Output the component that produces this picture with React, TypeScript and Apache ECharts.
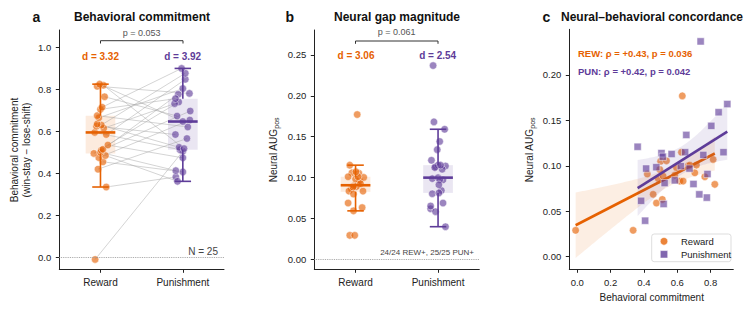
import React, { useEffect, useRef } from "react";
import * as echarts from "echarts";

// ---------------- DATA ----------------
const conditions = ["Reward", "Punishment"];

// per-subject behavioral commitment (win-stay − lose-shift)
const rewardCommitment = [-0.01, 0.335, 0.42, 0.455, 0.475, 0.485, 0.495, 0.5, 0.51, 0.515, 0.535, 0.585, 0.595, 0.615, 0.625, 0.63, 0.635, 0.665, 0.675, 0.705, 0.715, 0.765, 0.815, 0.82, 0.825];
const punishCommitment = [0.505, 0.383, 0.566, 0.407, 0.654, 0.362, 0.74, 0.413, 0.697, 0.777, 0.474, 0.848, 0.513, 0.732, 0.585, 0.877, 0.524, 0.804, 0.621, 0.756, 0.9, 0.673, 0.781, 0.518, 0.647];

// per-subject neural AUG_pos (one reward subject missing)
const rewardNeural: (number | null)[] = [0.029, 0.029, 0.091, 0.0686, 0.059, 0.086, 0.096, 0.105, 0.063, 0.0887, 0.1055, 0.0898, 0.098, 0.0832, 0.115, 0.177, 0.0832, 0.1, 0.1008, 0.0923, 0.1008, 0.088, 0.107, null, 0.0796];
const punishNeural = [0.114, 0.0615, 0.113, 0.0396, 0.134, 0.121, 0.237, 0.097, 0.08, 0.065, 0.0985, 0.159, 0.11, 0.0686, 0.084, 0.115, 0.081, 0.144, 0.0997, 0.112, 0.168, 0.097, 0.091, 0.058, 0.115];

// strip-plot jitter offsets (category units)
const jitterA_rew = [-0.065, 0.07, -0.03, 0.03, -0.02, 0.06, -0.08, 0, 0.01, 0.03, 0.09, 0.07, -0.07, 0.04, -0.05, 0.01, -0.04, -0.02, -0.04, 0, 0.02, 0.05, -0.04, 0.035, -0.01];
const jitterA_pun = [0, -0.085, 0.05, 0, 0.085, -0.065, -0.05, -0.085, 0.09, -0.055, 0, 0.03, -0.035, -0.1, -0.09, 0.03, -0.045, 0, 0.06, -0.09, -0.015, -0.07, 0.08, 0.015, 0];
const jitterB_rew = [-0.07, -0.01, 0.03, -0.09, -0.025, -0.05, 0.05, 0.04, 0.08, 0.01, -0.045, -0.02, 0, -0.08, -0.07, 0.02, 0.09, 0.1, -0.09, 0.06, 0.03, -0.03, 0.005, 0, -0.025];
const jitterB_pun = [0.09, -0.09, -0.03, 0.09, -0.01, -0.08, -0.06, 0.06, -0.07, -0.09, -0.07, 0.08, 0.05, 0.06, 0.04, 0, 0.01, 0.02, 0, -0.04, -0.05, 0.02, 0.01, -0.03, 0.03];

const effectA = ["d = 3.32", "d = 3.92"];
const effectB = ["d = 3.06", "d = 2.54"];
const pA = "p = 0.053";
const pB = "p = 0.061";
const corrTexts = ["REW: ρ = +0.43, p = 0.036", "PUN: ρ = +0.42, p = 0.042"];

const ticksA = [0, 0.2, 0.4, 0.6, 0.8, 1.0];
const ticksB = [0, 0.05, 0.1, 0.15, 0.2, 0.25];
const ticksCx = [0, 0.2, 0.4, 0.6, 0.8];
const ticksCy = [0, 0.05, 0.1, 0.15, 0.2];

// ---------------- STYLE ----------------
const W = 753, H = 314;
const FONT = "Liberation Sans";
const ORANGE = "#E66101";
const PURPLE = "#5E3C99";
const ORANGE_PT = "rgba(230,97,1,0.78)";
const PURPLE_PT = "rgba(94,60,153,0.78)";
const ORANGE_BOX = "rgba(230,97,1,0.13)";
const PURPLE_BOX = "rgba(94,60,153,0.13)";
const BOX_W = 0.36;
const CAP_W = 0.2;

// ---------------- STATS ----------------
function quantile(s: number[], q: number) {
  const pos = (s.length - 1) * q;
  const lo = Math.floor(pos), hi = Math.ceil(pos);
  return s[lo] + (s[hi] - s[lo]) * (pos - lo);
}
function boxStats(vals: (number | null)[]) {
  const s = (vals.filter((v) => v != null) as number[]).sort((a, b) => a - b);
  const q1 = quantile(s, 0.25), med = quantile(s, 0.5), q3 = quantile(s, 0.75);
  const iqr = q3 - q1;
  const lo = s.filter((v) => v >= q1 - 1.5 * iqr)[0];
  const hiArr = s.filter((v) => v <= q3 + 1.5 * iqr);
  const hi = hiArr[hiArr.length - 1];
  return [lo, q1, med, q3, hi];
}
function regression(xs: number[], ys: (number | null)[]) {
  const pts: [number, number][] = [];
  xs.forEach((x, i) => { if (ys[i] != null) pts.push([x, ys[i] as number]); });
  const n = pts.length;
  const mx = pts.reduce((a, p) => a + p[0], 0) / n;
  const my = pts.reduce((a, p) => a + p[1], 0) / n;
  let sxx = 0, sxy = 0;
  pts.forEach(([x, y]) => { sxx += (x - mx) ** 2; sxy += (x - mx) * (y - my); });
  const b = sxy / sxx, a = my - b * mx;
  let sse = 0;
  pts.forEach(([x, y]) => { sse += (y - a - b * x) ** 2; });
  const s = Math.sqrt(sse / (n - 2));
  const t = 2.07;
  const xmin = Math.min(...pts.map((p) => p[0])), xmax = Math.max(...pts.map((p) => p[0]));
  const upper: number[][] = [], lower: number[][] = [];
  const N = 60;
  for (let k = 0; k <= N; k++) {
    const x = xmin + ((xmax - xmin) * k) / N;
    const yhat = a + b * x;
    const se = s * Math.sqrt(1 / n + (x - mx) ** 2 / sxx);
    upper.push([x, yhat + t * se]);
    lower.push([x, yhat - t * se]);
  }
  return { pts, line: [[xmin, a + b * xmin], [xmax, a + b * xmax]], upper, lower };
}

// ---------------- RENDERERS ----------------
const boxFillRender = (fills: string[]) => (params: any, api: any) => {
  const x = api.value(0);
  const q1 = api.coord([x, api.value(2)]);
  const q3 = api.coord([x, api.value(4)]);
  const hw = api.size([BOX_W, 0])[0] / 2;
  return {
    type: "rect",
    shape: { x: q1[0] - hw, y: q3[1], width: hw * 2, height: q1[1] - q3[1] },
    style: { fill: fills[params.dataIndex] },
  };
};
const whiskerRender = (colors: string[]) => (params: any, api: any) => {
  const x = api.value(0);
  const [lo, q1, med, q3, hi] = [1, 2, 3, 4, 5].map((i) => api.coord([x, api.value(i)]));
  const hw = api.size([BOX_W, 0])[0] / 2;
  const cw = api.size([CAP_W, 0])[0] / 2;
  const c = colors[params.dataIndex];
  const st = { stroke: c, lineWidth: 1.6 };
  return {
    type: "group",
    children: [
      { type: "line", shape: { x1: lo[0], y1: lo[1], x2: lo[0], y2: q1[1] }, style: st },
      { type: "line", shape: { x1: hi[0], y1: hi[1], x2: hi[0], y2: q3[1] }, style: st },
      { type: "line", shape: { x1: lo[0] - cw, y1: lo[1], x2: lo[0] + cw, y2: lo[1] }, style: st },
      { type: "line", shape: { x1: hi[0] - cw, y1: hi[1], x2: hi[0] + cw, y2: hi[1] }, style: st },
      { type: "line", shape: { x1: med[0] - hw, y1: med[1], x2: med[0] + hw, y2: med[1] }, style: { stroke: c, lineWidth: 2.6 } },
    ],
  };
};
const pairRender = (params: any, api: any) => {
  const a = api.coord([api.value(0), api.value(1)]);
  const b = api.coord([api.value(2), api.value(3)]);
  return { type: "line", shape: { x1: a[0], y1: a[1], x2: b[0], y2: b[1] }, style: { stroke: "rgba(165,165,165,0.6)", lineWidth: 0.8 } };
};
const bandRender = (upper: number[][], lower: number[][], fill: string) => (params: any, api: any) => {
  const pts = upper.map((p) => api.coord(p)).concat(lower.slice().reverse().map((p) => api.coord(p)));
  return { type: "polygon", shape: { points: pts }, style: { fill } };
};

function buildOption() {
  const statsAR = boxStats(rewardCommitment);
  const statsAP = boxStats(punishCommitment);
  const statsBR = boxStats(rewardNeural);
  const statsBP = boxStats(punishNeural);
  const regR = regression(rewardCommitment, rewardNeural);
  const regP = regression(punishCommitment, punishNeural);

  const axisLine = { show: true, onZero: false, lineStyle: { color: "#222", width: 1 } };
  const tick = (vals: number[]) => ({ show: true, length: 3.5, customValues: vals, lineStyle: { color: "#222", width: 1 } });
  const label = (vals: number[], fmt: (v: number) => string, size = 9.5) => ({
    show: true, customValues: vals, formatter: fmt, color: "#222", fontSize: size, margin: 8, fontFamily: FONT,
  });
  const catFmt = (v: number) => conditions[Math.round(v)] ?? "";

  const zeroLine = {
    silent: true, symbol: ["none", "none"], label: { show: false },
    lineStyle: { type: "dotted", color: "#9a9a9a", width: 0.9 },
    data: [{ yAxis: 0 }],
  };

  const txt = (x: number, y: number, text: string, o: any = {}) => ({
    type: "text", x, y, z: 100, silent: true,
    style: {
      text, fontFamily: FONT, fontSize: o.size ?? 10, fontWeight: o.bold ? "bold" : "normal",
      fill: o.color ?? "#222", align: o.align ?? "center", verticalAlign: "middle", lineHeight: o.lh,
      rich: o.rich,
    },
    rotation: o.rot ?? 0,
  });
  const bracket = (x1: number, x2: number, y: number) => ({
    type: "polyline", z: 100, silent: true,
    shape: { points: [[x1, y + 2.8], [x1, y], [x2, y], [x2, y + 2.8]] },
    style: { stroke: "#333", lineWidth: 1, fill: "none" },
  });
  const augRich = {
    n: { fontSize: 10, fontFamily: FONT, fill: "#222", lineHeight: 13 },
    s: { fontSize: 7, fontFamily: FONT, fill: "#222", verticalAlign: "bottom", lineHeight: 13 },
  };

  const graphic = [
    txt(32.5, 17, "a", { size: 14, bold: true, align: "left", color: "#111" }),
    txt(142, 16.5, "Behavioral commitment", { size: 12, bold: true, color: "#111" }),
    txt(285.5, 17, "b", { size: 14, bold: true, align: "left", color: "#111" }),
    txt(397, 16.5, "Neural gap magnitude", { size: 12, bold: true, color: "#111" }),
    txt(542.5, 17, "c", { size: 14, bold: true, align: "left", color: "#111" }),
    txt(652, 16.5, "Neural–behavioral concordance", { size: 12, bold: true, color: "#111" }),
    txt(100.5, 56, effectA[0], { bold: true, color: ORANGE }),
    txt(182.7, 56, effectA[1], { bold: true, color: PURPLE }),
    txt(356, 55.7, effectB[0], { bold: true, color: ORANGE }),
    txt(437.7, 55.7, effectB[1], { bold: true, color: PURPLE }),
    txt(141.7, 32.7, pA, { size: 9, color: "#555" }),
    txt(396.7, 32.3, pB, { size: 9, color: "#555" }),
    bracket(100.5, 183, 40.7),
    bracket(355.5, 438, 41),
    txt(218, 251.7, "N = 25", { size: 10, color: "#444", align: "right" }),
    txt(474, 252.7, "24/24 REW+, 25/25 PUN+", { size: 8, color: "#444", align: "right" }),
    txt(578, 53.3, corrTexts[0], { size: 9.5, bold: true, color: ORANGE, align: "left" }),
    txt(578, 71.7, corrTexts[1], { size: 9.5, bold: true, color: PURPLE, align: "left" }),
    txt(651.7, 297.3, "Behavioral commitment", { size: 10 }),
    txt(20.5, 150, "Behavioral commitment\n(win-stay − lose-shift)", { size: 10, rot: Math.PI / 2, lh: 12.7 }),
    txt(273, 150, "{n|Neural AUG}{s|pos}", { rot: Math.PI / 2, rich: augRich }),
    txt(529.3, 150, "{n|Neural AUG}{s|pos}", { rot: Math.PI / 2, rich: augRich }),
    // legend
    {
      type: "rect", z: 99, silent: true,
      shape: { x: 651.7, y: 234, width: 79.3, height: 27.7, r: 2.5 },
      style: { fill: "rgba(255,255,255,0.85)", stroke: "#d4d4d4", lineWidth: 0.8 },
    },
    { type: "circle", z: 100, silent: true, shape: { cx: 664, cy: 241.3, r: 3.8 }, style: { fill: ORANGE_PT, stroke: "#fff", lineWidth: 0.5 } },
    { type: "rect", z: 100, silent: true, shape: { x: 660.3, y: 250.6, width: 7.4, height: 7.4 }, style: { fill: PURPLE_PT, stroke: "#fff", lineWidth: 0.5 } },
    txt(681, 241.5, "Reward", { size: 9.5, align: "left" }),
    txt(681, 254.5, "Punishment", { size: 9.5, align: "left" }),
  ];

  const ptStyle = (c: string) => ({ color: c, borderColor: "#fff", borderWidth: 0.6 });

  const series: any[] = [
    // ---- panel a ----
    {
      type: "custom", name: "a-box", xAxisIndex: 0, yAxisIndex: 0, z: 1, silent: true,
      renderItem: boxFillRender([ORANGE_BOX, PURPLE_BOX]),
      encode: { x: 0, y: [1, 2, 3, 4, 5] },
      data: [[0, ...statsAR], [1, ...statsAP]],
    },
    {
      type: "custom", name: "a-pairs", xAxisIndex: 0, yAxisIndex: 0, z: 2, silent: true,
      renderItem: pairRender, encode: { x: [0, 2], y: [1, 3] },
      data: rewardCommitment.map((v, i) => [0 + jitterA_rew[i], v, 1 + jitterA_pun[i], punishCommitment[i]]),
    },
    {
      type: "scatter", name: "a-Reward", xAxisIndex: 0, yAxisIndex: 0, z: 3, symbolSize: 7.5,
      itemStyle: ptStyle(ORANGE_PT), markLine: zeroLine,
      data: rewardCommitment.map((v, i) => [0 + jitterA_rew[i], v]),
    },
    {
      type: "scatter", name: "a-Punishment", xAxisIndex: 0, yAxisIndex: 0, z: 3, symbolSize: 7.5,
      itemStyle: ptStyle(PURPLE_PT),
      data: punishCommitment.map((v, i) => [1 + jitterA_pun[i], v]),
    },
    {
      type: "custom", name: "a-whisk", xAxisIndex: 0, yAxisIndex: 0, z: 4, silent: true,
      renderItem: whiskerRender([ORANGE, PURPLE]), encode: { x: 0, y: [1, 2, 3, 4, 5] },
      data: [[0, ...statsAR], [1, ...statsAP]],
    },
    // ---- panel b ----
    {
      type: "custom", name: "b-box", xAxisIndex: 1, yAxisIndex: 1, z: 1, silent: true,
      renderItem: boxFillRender([ORANGE_BOX, PURPLE_BOX]), encode: { x: 0, y: [1, 2, 3, 4, 5] },
      data: [[0, ...statsBR], [1, ...statsBP]],
    },
    {
      type: "scatter", name: "b-Reward", xAxisIndex: 1, yAxisIndex: 1, z: 3, symbolSize: 7.5,
      itemStyle: ptStyle(ORANGE_PT), markLine: zeroLine,
      data: rewardNeural.map((v, i) => (v == null ? null : [0 + jitterB_rew[i], v])).filter((d) => d),
    },
    {
      type: "scatter", name: "b-Punishment", xAxisIndex: 1, yAxisIndex: 1, z: 3, symbolSize: 7.5,
      itemStyle: ptStyle(PURPLE_PT),
      data: punishNeural.map((v, i) => [1 + jitterB_pun[i], v]),
    },
    {
      type: "custom", name: "b-whisk", xAxisIndex: 1, yAxisIndex: 1, z: 4, silent: true,
      renderItem: whiskerRender([ORANGE, PURPLE]), encode: { x: 0, y: [1, 2, 3, 4, 5] },
      data: [[0, ...statsBR], [1, ...statsBP]],
    },
    // ---- panel c ----
    {
      type: "custom", name: "c-bandR", xAxisIndex: 2, yAxisIndex: 2, z: 1, silent: true,
      renderItem: bandRender(regR.upper, regR.lower, "rgba(230,97,1,0.11)"), data: [[regR.line[0][0], regR.line[0][1]]],
    },
    {
      type: "scatter", name: "Reward", xAxisIndex: 2, yAxisIndex: 2, z: 2, symbolSize: 7.5,
      itemStyle: ptStyle(ORANGE_PT), data: regR.pts,
    },
    {
      type: "line", name: "c-lineR", xAxisIndex: 2, yAxisIndex: 2, z: 3, symbol: "none", silent: true,
      lineStyle: { color: ORANGE, width: 2.6 }, data: regR.line,
    },
    {
      type: "custom", name: "c-bandP", xAxisIndex: 2, yAxisIndex: 2, z: 4, silent: true,
      renderItem: bandRender(regP.upper, regP.lower, "rgba(94,60,153,0.11)"), data: [[regP.line[0][0], regP.line[0][1]]],
    },
    {
      type: "scatter", name: "Punishment", xAxisIndex: 2, yAxisIndex: 2, z: 5, symbol: "rect", symbolSize: 7.2,
      itemStyle: ptStyle(PURPLE_PT), data: regP.pts,
    },
    {
      type: "line", name: "c-lineP", xAxisIndex: 2, yAxisIndex: 2, z: 6, symbol: "none", silent: true,
      lineStyle: { color: PURPLE, width: 2.6 }, data: regP.line,
    },
  ];

  return {
    animation: false,
    textStyle: { fontFamily: FONT },
    grid: [
      { left: 59.3, top: 30, width: 164.7, height: 239.3 },
      { left: 314.3, top: 30, width: 165, height: 239.3 },
      { left: 569.3, top: 29.3, width: 164, height: 240 },
    ],
    xAxis: [
      { gridIndex: 0, type: "value", min: -0.5, max: 1.5, axisLine, axisTick: tick([0, 1]), axisLabel: label([0, 1], catFmt, 10), splitLine: { show: false } },
      { gridIndex: 1, type: "value", min: -0.5, max: 1.5, axisLine, axisTick: tick([0, 1]), axisLabel: label([0, 1], catFmt, 10), splitLine: { show: false } },
      { gridIndex: 2, type: "value", min: -0.048, max: 0.936, axisLine, axisTick: tick(ticksCx), axisLabel: label(ticksCx, (v) => v.toFixed(1)), splitLine: { show: false } },
    ],
    yAxis: [
      { gridIndex: 0, type: "value", min: -0.057, max: 1.083, axisLine, axisTick: tick(ticksA), axisLabel: label(ticksA, (v) => v.toFixed(1)), splitLine: { show: false } },
      { gridIndex: 1, type: "value", min: -0.0126, max: 0.2806, axisLine, axisTick: tick(ticksB), axisLabel: label(ticksB, (v) => v.toFixed(2)), splitLine: { show: false } },
      { gridIndex: 2, type: "value", min: -0.0139, max: 0.2503, axisLine, axisTick: tick(ticksCy), axisLabel: label(ticksCy, (v) => v.toFixed(2)), splitLine: { show: false } },
    ],
    graphic,
    series,
  };
}

export default function App() {
  const ref = useRef<HTMLDivElement>(null);
  useEffect(() => {
    const chart = echarts.init(ref.current!, null, { renderer: "svg", width: W, height: H });
    chart.setOption(buildOption() as any);
    return () => chart.dispose();
  }, []);
  return <div ref={ref} style={{ position: "absolute", left: 0, top: 0, width: W, height: H, background: "#fff" }} />;
}
